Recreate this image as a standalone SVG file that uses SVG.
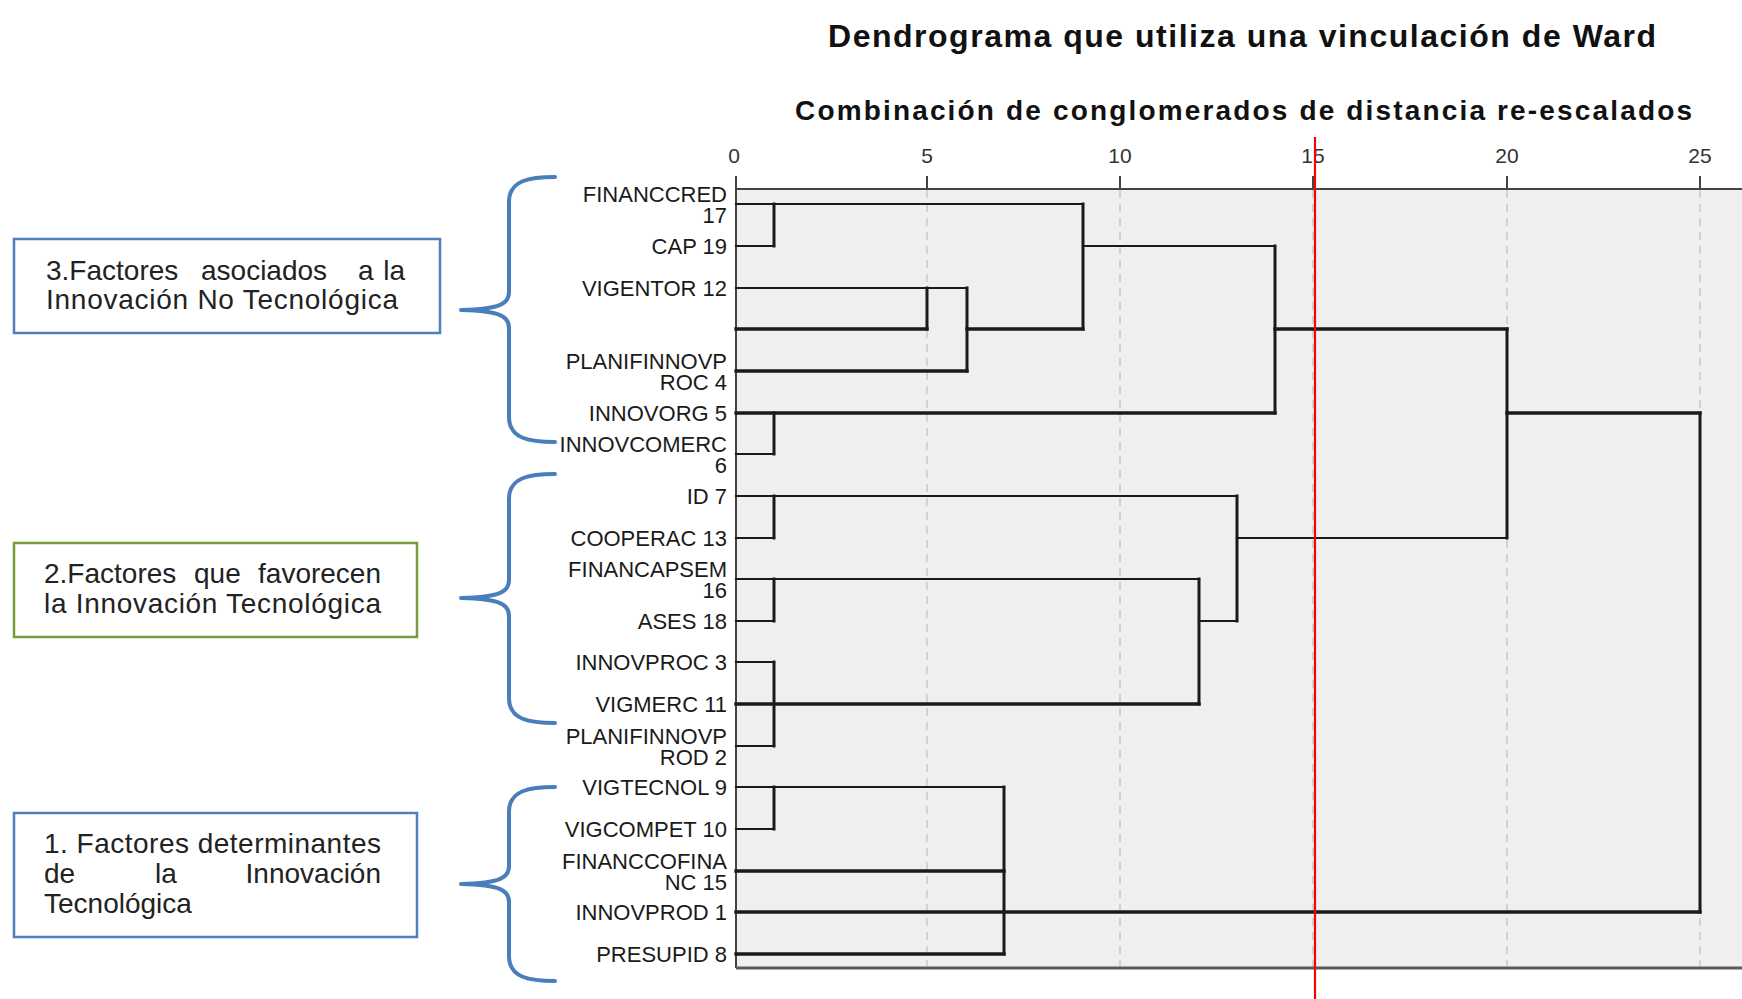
<svg xmlns="http://www.w3.org/2000/svg" width="1742" height="999" viewBox="0 0 1742 999">
<style>
text{font-family:"Liberation Sans",Arial,Helvetica,sans-serif}
.title{font-size:32px;font-weight:bold;fill:#111}
.sub{font-size:28px;font-weight:bold;fill:#111}
.tick{font-size:21px;fill:#333;text-anchor:middle}
.lbl{font-size:22px;fill:#1a1a1a;text-anchor:end}
.bt{font-size:28px;fill:#222}
.end{text-anchor:end}
.d{stroke:#1a1a1a;stroke-width:2.2;fill:none;stroke-linecap:square}
.dk{stroke-width:3.3}
.dv{stroke-width:3}
.grid{stroke:#c9c9c9;stroke-width:1.5;stroke-dasharray:8 6;fill:none}
.ax{stroke:#444;stroke-width:2;fill:none}
.brace{stroke:#4a7ebb;stroke-width:4;fill:none;stroke-linecap:round;stroke-linejoin:round}
.boxb{fill:#fff;stroke:#4f7fbd;stroke-width:2.5}
.boxg{fill:#fff;stroke:#7a9a3c;stroke-width:2.5}
</style>
<rect width="1742" height="999" fill="#fff"/>

<g id="titles">
<text class="title" x="828" y="47" textLength="828">Dendrograma que utiliza una vinculación de Ward</text>
<text class="sub" x="795" y="120" textLength="897">Combinación de conglomerados de distancia re-escalados</text>
</g>

<g id="plot">
<rect x="736" y="189" width="1006" height="779" fill="#efefef"/>
<path class="grid" d="M927 190V967M1120 190V967M1313 190V967M1507 190V967M1700 190V967"/>
<path class="ax" d="M736 189H1742M736 176V968M927 176V189M1120 176V189M1313 176V189M1507 176V189M1700 176V189"/>
<path d="M736 968H1742" stroke="#5a5a5a" stroke-width="3" fill="none"/>
<text class="tick" x="734" y="163">0</text>
<text class="tick" x="927" y="163">5</text>
<text class="tick" x="1120" y="163">10</text>
<text class="tick" x="1313" y="163">15</text>
<text class="tick" x="1507" y="163">20</text>
<text class="tick" x="1700" y="163">25</text>
</g>

<g id="connectors">
<path class="d" d="M736 204H1083M736 246H774M736 288H967M1083 246H1275M736 454H774M736 496H1237M736 538H774M1237 538H1507M736 579H1199M736 621H774M1199 621H1237M736 662H774M736 746H774M736 787H1004M736 829H774"/>
<path class="d dk" d="M736 329H927M736 371H967M967 329H1083M736 413H1275M1275 329H1507M1507 413H1700M736 704H1199M736 871H1004M736 912H1700M736 954H1004"/>
<path class="d dv" d="M774 204V246M927 288V329M967 288V371M1083 204V329M1275 246V413M774 413V454M1507 329V538M1700 413V912M774 496V538M1237 496V621M774 579V621M1199 579V704M774 662V746M774 787V829M1004 787V954"/>
</g>

<g id="leaf-labels">
<g id="leaf-17"><text class="lbl" x="727" y="202">FINANCCRED</text><text class="lbl" x="727" y="223">17</text></g>
<g id="leaf-19"><text class="lbl" x="727" y="254">CAP 19</text></g>
<g id="leaf-12"><text class="lbl" x="727" y="296">VIGENTOR 12</text></g>
<g id="leaf-4"><text class="lbl" x="727" y="369">PLANIFINNOVP</text><text class="lbl" x="727" y="390">ROC 4</text></g>
<g id="leaf-5"><text class="lbl" x="727" y="421">INNOVORG 5</text></g>
<g id="leaf-6"><text class="lbl" x="727" y="452">INNOVCOMERC</text><text class="lbl" x="727" y="473">6</text></g>
<g id="leaf-7"><text class="lbl" x="727" y="504">ID 7</text></g>
<g id="leaf-13"><text class="lbl" x="727" y="546">COOPERAC 13</text></g>
<g id="leaf-16"><text class="lbl" x="727" y="577">FINANCAPSEM</text><text class="lbl" x="727" y="598">16</text></g>
<g id="leaf-18"><text class="lbl" x="727" y="629">ASES 18</text></g>
<g id="leaf-3"><text class="lbl" x="727" y="670">INNOVPROC 3</text></g>
<g id="leaf-11"><text class="lbl" x="727" y="712">VIGMERC 11</text></g>
<g id="leaf-2"><text class="lbl" x="727" y="744">PLANIFINNOVP</text><text class="lbl" x="727" y="765">ROD 2</text></g>
<g id="leaf-9"><text class="lbl" x="727" y="795">VIGTECNOL 9</text></g>
<g id="leaf-10"><text class="lbl" x="727" y="837">VIGCOMPET 10</text></g>
<g id="leaf-15"><text class="lbl" x="727" y="869">FINANCCOFINA</text><text class="lbl" x="727" y="890">NC 15</text></g>
<g id="leaf-1"><text class="lbl" x="727" y="920">INNOVPROD 1</text></g>
<g id="leaf-8"><text class="lbl" x="727" y="962">PRESUPID 8</text></g>
</g>

<g id="red-cut">
<path d="M1315 137V999" stroke="#ff0000" stroke-width="2.2" fill="none"/>
</g>

<g id="braces">
<path class="brace" d="M555 177C530 177 509 180 509 202V292C509 304 500 309 461 310M461 310C500 311 509 316 509 328V417C509 439 530 442 555 442"/>
<path class="brace" d="M555 474C530 474 509 477 509 499V580C509 592 500 597 461 598M461 598C500 599 509 604 509 616V698C509 720 530 723 555 723"/>
<path class="brace" d="M555 787C530 787 509 790 509 812V866C509 878 500 883 461 884M461 884C500 885 509 890 509 902V956C509 978 530 981 555 981"/>
</g>

<g id="box-3">
<rect class="boxb" x="14" y="239" width="426" height="94"/>
<text class="bt" x="46" y="280">3.Factores</text>
<text class="bt" x="201" y="280">asociados</text>
<text class="bt" x="358" y="280">a</text>
<text class="bt end" x="405" y="280">la</text>
<text class="bt" x="46" y="309" textLength="352">Innovación No Tecnológica</text>
</g>

<g id="box-2">
<rect class="boxg" x="14" y="543" width="403" height="94"/>
<text class="bt" x="44" y="583">2.Factores</text>
<text class="bt" x="194" y="583">que</text>
<text class="bt end" x="381" y="583">favorecen</text>
<text class="bt" x="44" y="613" textLength="337">la Innovación Tecnológica</text>
</g>

<g id="box-1">
<rect class="boxb" x="14" y="813" width="403" height="124"/>
<text class="bt" x="44" y="853" textLength="337">1. Factores determinantes</text>
<text class="bt" x="44" y="883">de</text>
<text class="bt" x="155" y="883">la</text>
<text class="bt end" x="381" y="883">Innovación</text>
<text class="bt" x="44" y="913">Tecnológica</text>
</g>
</svg>
